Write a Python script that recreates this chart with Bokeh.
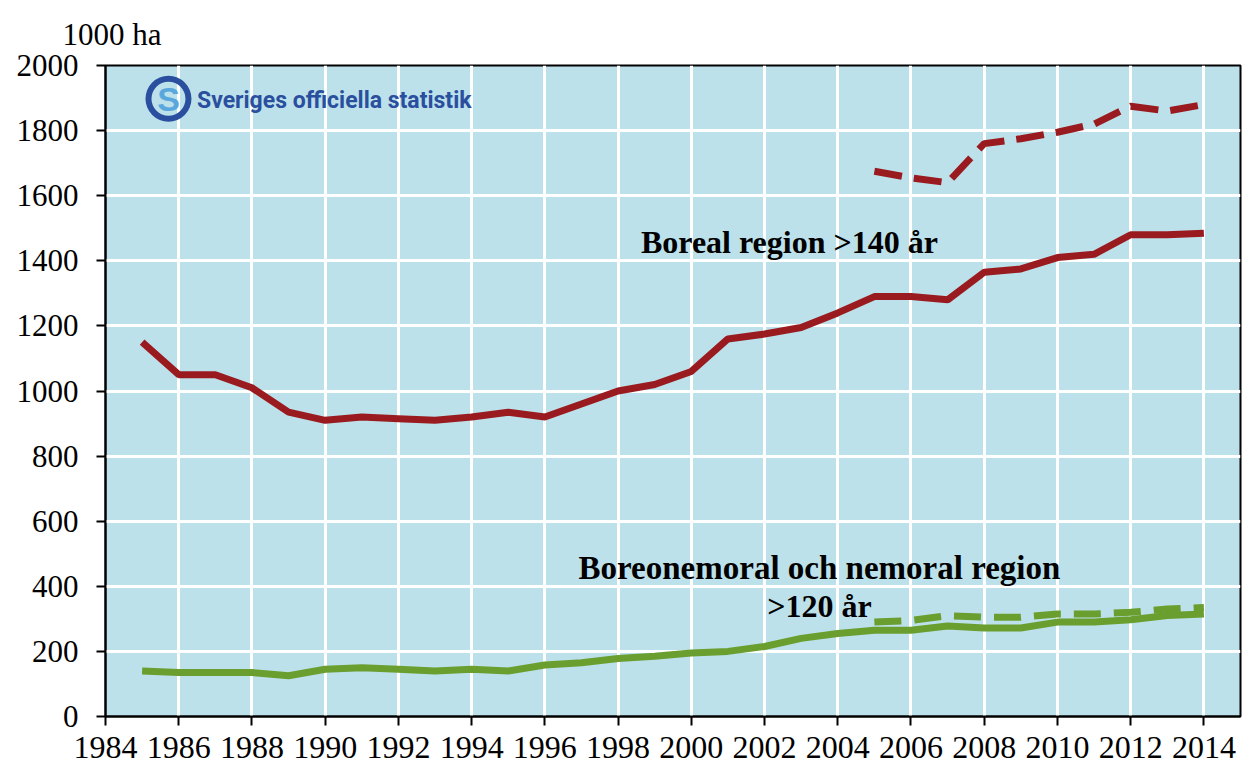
from bokeh.plotting import figure
from bokeh.models import Range1d, Label, FixedTicker
from bokeh.embed import file_html
from bokeh.resources import INLINE

# ---- data ----
years = list(range(1985, 2015))
boreal = [1150, 1050, 1050, 1010, 935, 910, 920, 915, 910, 920, 935, 920, 960, 1000, 1020,
          1060, 1160, 1175, 1195, 1240, 1290, 1290, 1280, 1365, 1375, 1410, 1420, 1480, 1480, 1485]
nemoral = [140, 135, 135, 135, 125, 145, 150, 145, 140, 145, 140, 158, 165, 178, 185,
           195, 200, 215, 240, 255, 265, 265, 278, 272, 272, 290, 290, 297, 310, 315]
years_new = list(range(2005, 2015))
boreal_new = [1675, 1655, 1640, 1760, 1775, 1795, 1820, 1875, 1860, 1880]
nemoral_new = [290, 295, 310, 305, 305, 315, 315, 320, 330, 335]

x_ticks = list(range(1984, 2015, 2))
y_ticks = list(range(0, 2001, 200))

RED = "#9A1B1F"
GREEN = "#6A9E2E"
BG = "#BCE1EA"
LOGO = "#2A4F9E"
SERIF = "Liberation Serif"

p = figure(width=1242, height=769, output_backend="svg", toolbar_location=None,
           x_range=Range1d(1984, 2015), y_range=Range1d(0, 2000),
           min_border_left=105, min_border_right=2, min_border_top=65, min_border_bottom=53)

# unit text above the y axis
p.title.text = "1000 ha"
p.title.text_font = SERIF
p.title.text_font_size = "31px"
p.title.text_font_style = "normal"
p.title.text_color = "black"
p.title.align = "left"
p.title.offset = -43
p.title.standoff = 28

p.background_fill_color = BG
p.border_fill_color = "white"
p.outline_line_color = "black"
p.outline_line_width = 2

p.xaxis.ticker = FixedTicker(ticks=x_ticks)
p.yaxis.ticker = FixedTicker(ticks=y_ticks)
for ax in (p.xaxis, p.yaxis):
    ax.axis_line_color = "black"
    ax.axis_line_width = 2
    ax.major_tick_line_color = "black"
    ax.major_tick_line_width = 2
    ax.major_tick_in = 0
    ax.major_tick_out = 9
    ax.minor_tick_line_color = None
    ax.major_label_text_font = SERIF
    ax.major_label_text_font_size = "31px"
    ax.major_label_text_color = "black"
p.xaxis.major_label_text_font_size = "32px"
p.xaxis.major_label_standoff = 11
p.yaxis.major_label_standoff = 18

p.xgrid.ticker = FixedTicker(ticks=x_ticks)
p.ygrid.ticker = FixedTicker(ticks=y_ticks)
p.grid.grid_line_color = "white"
p.grid.grid_line_width = 3
p.grid.grid_line_alpha = 1.0

# ---- series ----
p.line(years, boreal, line_color=RED, line_width=7)
p.line(years_new, boreal_new, line_color=RED, line_width=7, line_dash="28 12")
p.line(years, nemoral, line_color=GREEN, line_width=7)
p.line(years_new, nemoral_new, line_color=GREEN, line_width=7, line_dash="27 13")

# ---- annotations ----
p.add_layout(Label(x=2002.68, y=1459, text="Boreal region >140 år", text_font=SERIF,
                   text_font_size="32px", text_font_style="bold", text_color="black",
                   text_align="center", text_baseline="middle"))
p.add_layout(Label(x=2003.5, y=455, text="Boreonemoral och nemoral region", text_font=SERIF,
                   text_font_size="33px", text_font_style="bold", text_color="black",
                   text_align="center", text_baseline="middle"))
p.add_layout(Label(x=2003.5, y=341, text=">120 år", text_font=SERIF,
                   text_font_size="32px", text_font_style="bold", text_color="black",
                   text_align="center", text_baseline="middle"))

# ---- logo ----
p.annulus(x=[1985.72], y=[1898], inner_radius=17, outer_radius=23,
          inner_radius_units="screen", outer_radius_units="screen",
          fill_color=LOGO, line_color=None)
p.add_layout(Label(x=1985.72, y=1898, text="S", text_font="Liberation Sans",
                   text_font_size="34px", text_color="#5AA7DD", text_font_style="bold",
                   text_align="center", text_baseline="middle"))
p.add_layout(Label(x=1986.5, y=1892, text="Sveriges officiella statistik",
                   text_font="Roboto", text_font_size="23px", text_font_style="bold",
                   text_color=LOGO, text_align="left", text_baseline="middle"))

open("out.html", "w").write(file_html(p, INLINE))
